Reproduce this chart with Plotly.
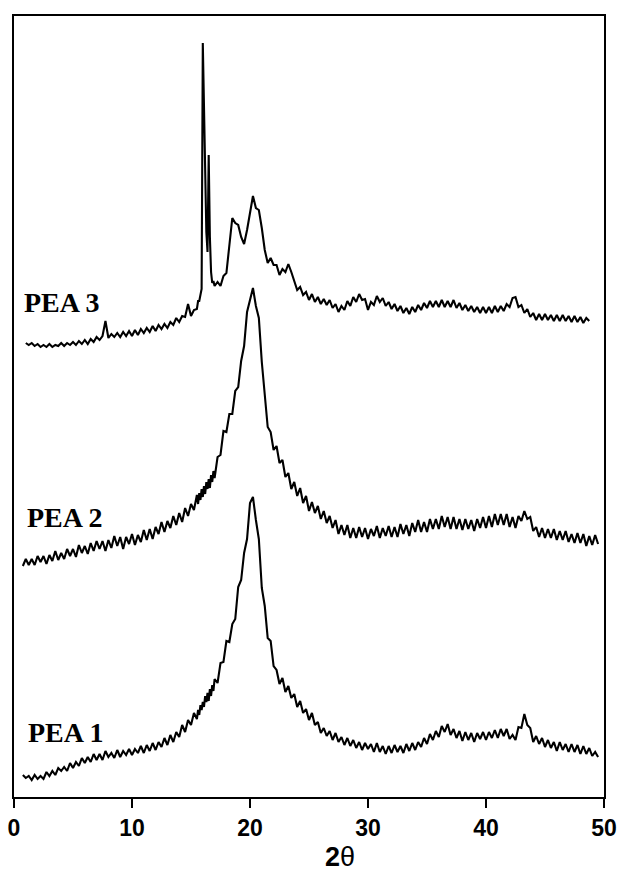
import plotly.graph_objects as go

# 2-theta sampling positions (degrees)
two_theta = [
    0.75,
    1.0, 1.25, 1.5, 1.75,
    2.0, 2.25, 2.5, 2.75,
    3.0, 3.25, 3.5, 3.75,
    4.0, 4.25, 4.5, 4.75,
    5.0, 5.25, 5.5, 5.75,
    6.0, 6.25, 6.5, 6.75,
    7.0, 7.25, 7.5, 7.75,
    8.0, 8.25, 8.5, 8.75,
    9.0, 9.25, 9.5, 9.75,
    10.0, 10.25, 10.5, 10.75,
    11.0, 11.25, 11.5, 11.75,
    12.0, 12.25, 12.5, 12.75,
    13.0, 13.25, 13.5, 13.75,
    14.0, 14.25, 14.5, 14.75,
    15.0, 15.25, 15.5,
    15.6, 15.7, 15.8, 15.9, 16.0, 16.1, 16.2, 16.3, 16.4, 16.5, 16.6, 16.7, 16.8, 16.9, 17.0,
    17.25, 17.5, 17.75,
    18.0, 18.25, 18.5, 18.75,
    19.0, 19.25, 19.5, 19.75,
    20.0, 20.25, 20.5, 20.75,
    21.0, 21.25, 21.5, 21.75,
    22.0, 22.25, 22.5, 22.75,
    23.0, 23.25, 23.5, 23.75,
    24.0, 24.25, 24.5, 24.75,
    25.0, 25.25, 25.5, 25.75,
    26.0, 26.25, 26.5, 26.75,
    27.0, 27.25, 27.5, 27.75,
    28.0, 28.25, 28.5, 28.75,
    29.0, 29.25, 29.5, 29.75,
    30.0, 30.25, 30.5, 30.75,
    31.0, 31.25, 31.5, 31.75,
    32.0, 32.25, 32.5, 32.75,
    33.0, 33.25, 33.5, 33.75,
    34.0, 34.25, 34.5, 34.75,
    35.0, 35.25, 35.5, 35.75,
    36.0, 36.25, 36.5, 36.75,
    37.0, 37.25, 37.5, 37.75,
    38.0, 38.25, 38.5, 38.75,
    39.0, 39.25, 39.5, 39.75,
    40.0, 40.25, 40.5, 40.75,
    41.0, 41.25, 41.5, 41.75,
    42.0, 42.25, 42.5, 42.75,
    43.0, 43.25, 43.5, 43.75,
    44.0, 44.25, 44.5, 44.75,
    45.0, 45.25, 45.5, 45.75,
    46.0, 46.25, 46.5, 46.75,
    47.0, 47.25, 47.5, 47.75,
    48.0, 48.25, 48.5, 48.75,
    49.0, 49.25, 49.5,
]

# Intensities (arbitrary units, curves stacked with offsets as in the figure)
pea1 = [
    22,
    19, 21, 17, 22,
    18, 21, 18, 25,
    21, 26, 22, 29,
    26, 30, 26, 34,
    29, 35, 31, 39,
    34, 40, 35, 43,
    37, 43, 37, 46,
    40, 44, 39, 47,
    40, 46, 42, 48,
    42, 48, 44, 51,
    44, 52, 46, 54,
    47, 55, 50, 59,
    52, 62, 55, 65,
    60, 72, 65, 77,
    72, 84, 78,
    87, 82, 92, 87, 95, 90, 101, 95, 104, 96, 108, 101, 112, 106, 118,
    114, 134, 135,
    156, 155, 173, 178,
    210, 217, 244, 258,
    294, 300, 277, 258,
    209, 191, 159, 156,
    131, 127, 113, 119,
    105, 111, 99, 103,
    90, 96, 84, 88,
    77, 84, 72, 75,
    64, 69, 61, 66,
    57, 64, 55, 60,
    52, 59, 51, 57,
    49, 55, 47, 54,
    48, 53, 45, 54,
    45, 51, 43, 51,
    44, 52, 45, 51,
    44, 53, 46, 54,
    47, 55, 50, 59,
    53, 63, 57, 66,
    60, 71, 65, 73,
    62, 68, 59, 66,
    56, 65, 57, 64,
    55, 64, 58, 65,
    57, 65, 59, 67,
    59, 68, 61, 68,
    58, 62, 57, 70,
    69, 83, 72, 69,
    55, 61, 53, 59,
    50, 57, 49, 55,
    46, 55, 47, 53,
    45, 53, 45, 52,
    43, 51, 43, 49,
    41, 45, 40,
]

pea2 = [
    231,
    238, 232, 238, 232,
    241, 235, 241, 233,
    242, 236, 246, 237,
    244, 238, 248, 241,
    248, 240, 252, 244,
    251, 243, 254, 246,
    256, 248, 256, 246,
    257, 249, 261, 251,
    260, 248, 260, 253,
    263, 252, 262, 255,
    267, 257, 268, 258,
    270, 263, 275, 265,
    276, 269, 281, 272,
    284, 275, 289, 281,
    293, 287, 302,
    293, 304, 297, 308, 300, 311, 303, 315, 308, 318, 309, 322, 315, 326, 319,
    340, 342, 366,
    365, 383, 383, 406,
    410, 436, 451, 485,
    497, 509, 491, 479,
    435, 399, 370, 365,
    347, 351, 334, 337,
    320, 324, 308, 315,
    301, 309, 294, 301,
    286, 295, 284, 291,
    278, 286, 274, 281,
    269, 277, 263, 272,
    262, 272, 259, 269,
    259, 270, 260, 269,
    258, 268, 261, 271,
    259, 269, 261, 271,
    260, 270, 260, 273,
    263, 272, 261, 274,
    265, 277, 265, 275,
    265, 278, 268, 278,
    268, 281, 270, 280,
    268, 280, 268, 278,
    267, 278, 268, 277,
    266, 278, 269, 280,
    269, 281, 270, 283,
    272, 283, 272, 283,
    270, 280, 269, 281,
    276, 286, 278, 280,
    266, 270, 260, 269,
    259, 268, 259, 268,
    257, 266, 257, 266,
    255, 263, 254, 264,
    254, 263, 251, 261,
    252, 262, 253,
]

pea3 = [
    None,
    454, 452, 454, 451,
    453, 450, 452, 450,
    453, 450, 452, 451,
    454, 451, 454, 452,
    455, 452, 456, 453,
    457, 453, 458, 455,
    460, 457, 461, 476,
    459, 463, 460, 464,
    460, 465, 461, 466,
    461, 467, 462, 468,
    464, 469, 465, 471,
    466, 472, 468, 473,
    469, 475, 472, 479,
    475, 481, 480, 493,
    481, 487, 488,
    496, 496, 504, 508, 754, 690, 610, 565, 545, 642, 560, 525, 514, 516, 511,
    515, 511, 521,
    524, 553, 579, 574,
    572, 560, 553, 567,
    586, 601, 589, 587,
    569, 547, 534, 539,
    532, 532, 522, 528,
    525, 533, 525, 517,
    507, 510, 502, 505,
    497, 503, 495, 500,
    493, 498, 492, 497,
    489, 493, 485, 491,
    487, 496, 491, 500,
    495, 503, 497, 498,
    487, 495, 492, 501,
    495, 499, 491, 495,
    488, 493, 486, 491,
    484, 489, 483, 490,
    485, 492, 487, 494,
    489, 496, 490, 496,
    490, 497, 490, 496,
    490, 497, 489, 494,
    487, 492, 486, 491,
    485, 490, 484, 490,
    484, 490, 484, 491,
    485, 491, 486, 493,
    490, 499, 500, 490,
    492, 484, 488, 480,
    484, 477, 483, 477,
    483, 477, 482, 476,
    482, 476, 482, 476,
    481, 475, 481, 475,
    480, 474, 479, 476,
    None, None, None,
]

series_names = ["PEA 1", "PEA 2", "PEA 3"]
series_values = [pea1, pea2, pea3]
label_x = [1.0, 0.95, 0.7]
label_y = [65, 280, 495]
x_ticks = [0, 10, 20, 30, 40, 50]

for s in series_values:
    assert len(s) == len(two_theta), (len(s), len(two_theta))

fig = go.Figure()
for name, vals in zip(series_names, series_values):
    fig.add_trace(go.Scatter(
        x=two_theta, y=vals, mode="lines", name=name,
        line=dict(color="black", width=2.1),
        connectgaps=False, showlegend=False, hoverinfo="skip",
    ))

for name, lx, ly in zip(series_names, label_x, label_y):
    fig.add_annotation(
        x=lx, y=ly, xref="x", yref="y", text="<b>" + name + "</b>",
        showarrow=False, xanchor="left", yanchor="middle",
        font=dict(family="Liberation Serif, Times New Roman, serif", size=28, color="black"),
    )

fig.add_annotation(
    x=0.5525, y=-0.077, xref="paper", yref="paper",
    text="<b>2</b>θ", showarrow=False, xanchor="center", yanchor="middle",
    font=dict(family="Liberation Sans, Arial, sans-serif", size=27, color="black"),
)

fig.update_layout(
    width=621, height=879, autosize=False,
    margin=dict(l=14, r=17, t=16, b=82, autoexpand=False),
    paper_bgcolor="white", plot_bgcolor="white",
    xaxis=dict(
        range=[0, 50], tickvals=x_ticks, ticks="outside", ticklen=9, tickwidth=2,
        tickcolor="black", showline=True, linewidth=2, linecolor="black", mirror=True,
        showgrid=False, zeroline=False, automargin=False,
        tickfont=dict(family="Liberation Sans, Arial, sans-serif", size=23, color="black", weight="bold"),
    ),
    yaxis=dict(
        range=[0, 781], showticklabels=False, ticks="", showline=True, linewidth=2,
        linecolor="black", mirror=True, showgrid=False, zeroline=False, automargin=False,
    ),
)

# remove the browser's default 8 px body margin so the figure sits at the page origin
fig.write_html(
    "out.html",
    config={"displayModeBar": False},
    post_script="document.body.style.margin='0';document.body.style.overflow='hidden';",
)
